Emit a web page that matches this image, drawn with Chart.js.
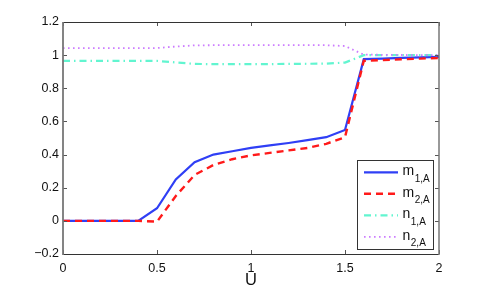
<!DOCTYPE html>
<html>
<head>
<meta charset="utf-8">
<script src="https://cdn.jsdelivr.net/npm/chart.js@4.4.0/dist/chart.umd.min.js"></script>
<style>
html,body{margin:0;padding:0;background:#fff;}
#wrap{position:relative;width:485px;height:291px;}
</style>
</head>
<body>
<div id="wrap"><canvas id="c" width="485" height="291"></canvas></div>
<script>
// ---- data ----
const U   = [0, 0.1, 0.2, 0.3, 0.4, 0.5, 0.6, 0.7, 0.8, 0.9, 1.0, 1.1, 1.2, 1.3, 1.4, 1.5, 1.6, 1.7, 1.8, 1.9, 2.0];
const m1A = [0, 0, 0, 0, 0, 0.076, 0.25, 0.354, 0.40, 0.42, 0.44, 0.455, 0.47, 0.487, 0.505, 0.548, 0.976, 0.979, 0.983, 0.987, 0.99];
const m2A = [0, 0, 0, 0, 0, -0.005, 0.15, 0.277, 0.337, 0.372, 0.395, 0.41, 0.425, 0.44, 0.465, 0.505, 0.966, 0.97, 0.975, 0.979, 0.983];
const n1A = [0.965, 0.965, 0.965, 0.965, 0.965, 0.965, 0.956, 0.947, 0.946, 0.946, 0.946, 0.946, 0.947, 0.948, 0.949, 0.955, 1.0, 1.0, 1.0, 1.0, 1.0];
const n2A = [1.042, 1.042, 1.042, 1.042, 1.042, 1.043, 1.052, 1.059, 1.06, 1.06, 1.06, 1.06, 1.06, 1.06, 1.06, 1.055, 1.003, 1.002, 1.001, 1.0, 1.0];
const seriesBase = ['m', 'm', 'n', 'n'];
const seriesSub  = ['1,A', '2,A', '1,A', '2,A'];
const xTicks = [0, 0.5, 1, 1.5, 2];
const yTicks = [-0.2, 0, 0.2, 0.4, 0.6, 0.8, 1, 1.2];
const xTitle = 'U';

const FONT = '"Liberation Sans", Arial, Helvetica, sans-serif';
const toPts = arr => arr.map((v, i) => ({x: U[i], y: v}));
const fmt = v => String(Math.round(v * 10) / 10).replace('-', '\u2212');

const styles = [
  {color: '#2f3ff5', width: 2.2, dash: []},
  {color: '#ff1a1a', width: 2.4, dash: [7, 5]},
  {color: '#62f5d0', width: 2.2, dash: [7, 4, 1.5, 4]},
  {color: '#cc7cff', width: 1.8, dash: [1.6, 3.4]}
];
const values = [m1A, m2A, n1A, n2A];

const datasets = values.map((arr, i) => ({
  label: seriesBase[i] + '_' + seriesSub[i],
  data: toPts(arr),
  borderColor: styles[i].color,
  borderWidth: styles[i].width,
  borderDash: styles[i].dash,
  pointRadius: 0,
  tension: 0,
  fill: false,
  order: 3 - i
}));

const framePlugin = {
  id: 'frame',
  afterDatasetsDraw(chart) {
    const {ctx, chartArea: {left, right, top, bottom}, scales: {x, y}} = chart;
    ctx.save();
    ctx.setLineDash([]);
    ctx.strokeStyle = '#555';
    ctx.lineWidth = 1;
    const seg = (a, b, c, d) => { ctx.beginPath(); ctx.moveTo(a, b); ctx.lineTo(c, d); ctx.stroke(); };
    x.ticks.forEach(t => {
      const px = Math.round(x.getPixelForValue(t.value)) + 0.5;
      seg(px, bottom, px, bottom - 4);
      seg(px, top, px, top + 4);
    });
    y.ticks.forEach(t => {
      const py = Math.round(y.getPixelForValue(t.value)) + 0.5;
      seg(left, py, left + 4, py);
      seg(right, py, right - 4, py);
    });
    ctx.strokeStyle = '#333';
    ctx.lineWidth = 1;
    seg(left, Math.round(top) + 0.5, right, Math.round(top) + 0.5);
    seg(left, Math.round(bottom) + 0.5, right, Math.round(bottom) + 0.5);
    ctx.strokeStyle = '#777';
    ctx.lineWidth = 1.8;
    seg(left, top, left, bottom + 1);
    ctx.lineWidth = 1.5;
    seg(right, top, right, bottom + 1);
    ctx.restore();
  },
  afterDraw(chart) {
    const {ctx} = chart;
    ctx.save();
    const bx = 357, by = 160, bw = 76, bh = 89;
    ctx.fillStyle = '#fff';
    ctx.fillRect(bx, by, bw, bh);
    ctx.strokeStyle = '#333';
    ctx.lineWidth = 1;
    ctx.setLineDash([]);
    ctx.strokeRect(bx + 0.5, by + 0.5, bw, bh);
    chart.data.datasets.forEach((ds, i) => {
      const ly = 172.3 + i * 21.5;
      ctx.strokeStyle = ds.borderColor;
      ctx.lineWidth = ds.borderWidth;
      ctx.setLineDash(ds.borderDash);
      ctx.beginPath();
      ctx.moveTo(364, ly);
      ctx.lineTo(398, ly);
      ctx.stroke();
      ctx.setLineDash([]);
      ctx.fillStyle = '#111';
      ctx.textBaseline = 'alphabetic';
      ctx.textAlign = 'left';
      ctx.font = '14px ' + FONT;
      ctx.fillText(seriesBase[i], 402.5, ly + 2.8);
      const w = ctx.measureText(seriesBase[i]).width;
      ctx.font = '10px ' + FONT;
      ctx.fillText(seriesSub[i], 402.5 + w + 0.5, ly + 9.4);
    });
    ctx.restore();
  }
};

new Chart(document.getElementById('c'), {
  type: 'line',
  data: {datasets},
  options: {
    responsive: false,
    animation: false,
    events: [],
    layout: {padding: {left: 0, right: 46, top: 22, bottom: 0}},
    plugins: {legend: {display: false}, tooltip: {enabled: false}},
    scales: {
      x: {
        type: 'linear', min: 0, max: 2,
        afterFit: s => { s.height = 37; },
        afterBuildTicks: s => { s.ticks = xTicks.map(v => ({value: v})); },
        grid: {display: false, drawTicks: false},
        border: {display: false},
        ticks: {color: '#111', font: {family: FONT, size: 12.5}, padding: 7, maxRotation: 0,
                callback: v => fmt(v)},
        title: {display: true, text: xTitle, color: '#111', font: {family: FONT, size: 16.5},
                padding: {top: 0, bottom: 1}}
      },
      y: {
        type: 'linear', min: -0.2, max: 1.2,
        afterFit: s => { s.width = 63; },
        afterBuildTicks: s => { s.ticks = yTicks.map(v => ({value: v})); },
        grid: {display: false, drawTicks: false},
        border: {display: false},
        ticks: {color: '#111', font: {family: FONT, size: 12.5}, padding: 4,
                callback: v => fmt(v)}
      }
    }
  },
  plugins: [framePlugin]
});
</script>
</body>
</html>
